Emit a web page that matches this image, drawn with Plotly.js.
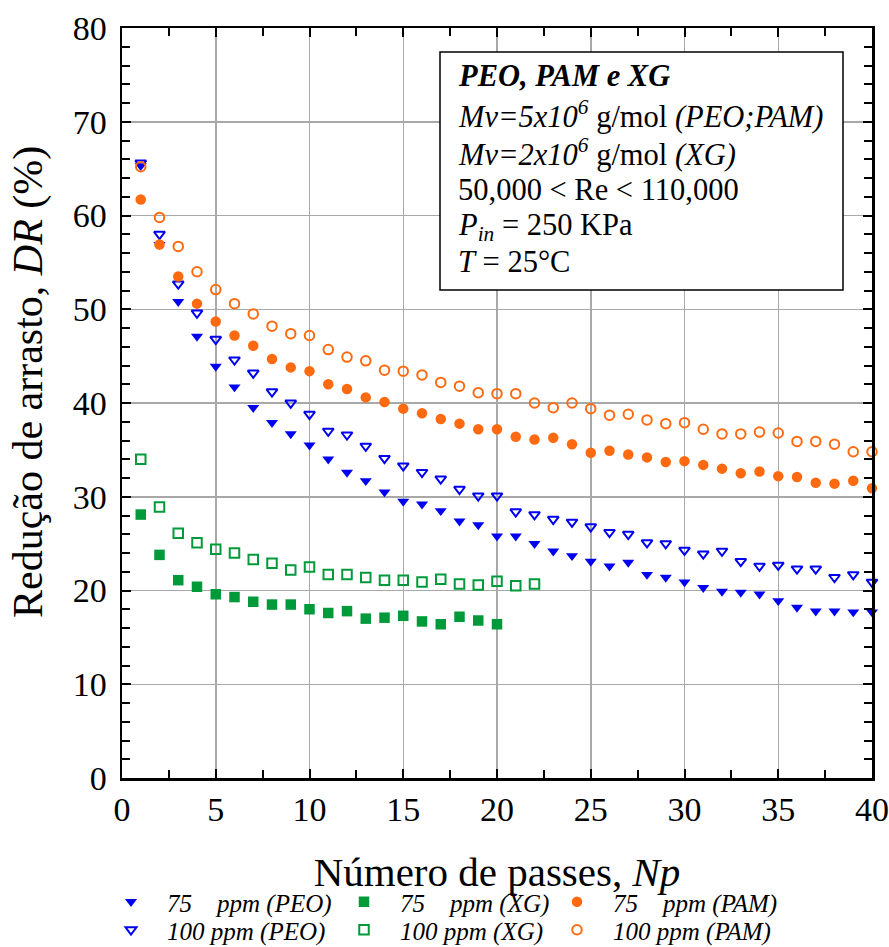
<!DOCTYPE html>
<html>
<head>
<meta charset="utf-8">
<script src="https://cdn.plot.ly/plotly-3.0.1.min.js"></script>
<style>html,body{margin:0;padding:0;background:#fff;}</style>
</head>
<body>
<div id="chart" style="width:889px;height:947px;"></div>
<script>
// Number of passes
const np40 = [1,2,3,4,5,6,7,8,9,10,11,12,13,14,15,16,17,18,19,20,21,22,23,24,25,26,27,28,29,30,31,32,33,34,35,36,37,38,39,40];
const np20 = [1,2,3,4,5,6,7,8,9,10,11,12,13,14,15,16,17,18,19,20];
const np22 = [1,2,3,4,5,6,7,8,9,10,11,12,13,14,15,16,17,18,19,20,21,22];

// Drag reduction DR (%)
const peo75 = [65.3,56.9,50.8,47.1,43.9,41.7,39.5,37.9,36.7,35.5,34.0,32.6,31.7,30.5,29.5,29.2,28.5,27.4,27.0,25.8,25.8,25.0,24.2,23.7,23.1,22.6,23.0,21.7,21.4,20.9,20.3,19.9,19.8,19.6,18.9,18.2,17.8,17.8,17.7,17.7];
const peo100 = [65.6,58.0,52.7,49.6,46.8,44.6,43.2,41.2,40.0,38.8,37.0,36.6,35.4,34.1,33.3,32.6,31.9,30.8,30.1,30.1,28.4,28.1,27.6,27.3,26.8,26.2,26.0,25.1,25.0,24.3,23.9,24.2,23.1,22.6,22.7,22.3,22.3,21.4,21.7,20.9];
const xg75 = [28.1,23.8,21.1,20.4,19.6,19.3,18.8,18.5,18.5,18.0,17.6,17.8,17.0,17.1,17.3,16.7,16.4,17.2,16.8,16.4];
const xg100 = [34.0,28.9,26.1,25.1,24.4,24.0,23.3,22.9,22.2,22.5,21.7,21.7,21.4,21.1,21.1,20.9,21.2,20.7,20.6,21.0,20.5,20.7];
const pam75 = [61.7,56.9,53.5,50.6,48.7,47.2,46.1,44.7,43.8,43.4,42.0,41.5,40.6,40.1,39.4,38.9,38.3,37.8,37.2,37.2,36.4,36.1,36.3,35.6,34.7,34.9,34.5,34.2,33.7,33.8,33.4,33.0,32.5,32.7,32.2,32.1,31.5,31.4,31.7,30.9];
const pam100 = [65.2,59.8,56.7,54.0,52.1,50.6,49.5,48.2,47.4,47.2,45.7,44.9,44.5,43.5,43.4,43.0,42.2,41.8,41.1,41.0,41.0,40.0,39.5,40.0,39.4,38.7,38.8,38.2,37.8,37.9,37.2,36.7,36.7,36.9,36.8,35.9,35.9,35.6,34.8,34.8];

const names = {
  peo75: '75\u00a0\u00a0\u00a0\u00a0ppm (PEO)',
  peo100: '100 ppm (PEO)',
  xg75: '75\u00a0\u00a0\u00a0\u00a0ppm (XG)',
  xg100: '100 ppm (XG)',
  pam75: '75\u00a0\u00a0\u00a0\u00a0ppm (PAM)',
  pam100: '100 ppm (PAM)'
};

const BLUE = '#0000f0', GREEN = '#009a3a', ORANGE = '#ff6a10';
const SERIF = 'Liberation Serif';

function tr(x, y, name, sym, color, leg, filled) {
  return {
    x: x, y: y, name: name, type: 'scatter', mode: 'markers', legend: leg,
    cliponaxis: false,
    marker: filled
      ? {symbol: sym, size: 10.5, color: color, line: {width: 0}}
      : {symbol: sym, size: 9.5, color: color, line: {width: 2, color: color}}
  };
}

const data = [
  tr(np22, xg100, names.xg100, 'square-open', GREEN, 'legend4', false),
  tr(np20, xg75, names.xg75, 'square', GREEN, 'legend3', true),
  tr(np40, peo75, names.peo75, 'triangle-down', BLUE, 'legend', true),
  tr(np40, peo100, names.peo100, 'triangle-down-open', BLUE, 'legend2', false),
  tr(np40, pam75, names.pam75, 'circle', ORANGE, 'legend5', true),
  tr(np40, pam100, names.pam100, 'circle-open', ORANGE, 'legend6', false)
];

const legFont = {family: SERIF, size: 25, color: '#000', style: 'italic'};
// row centre (px) -> legend top (px)
function leg(markerX, rowY) {
  return {
    x: (markerX - 36 - 122) / 750, xanchor: 'left',
    y: -((rowY - 25) - 778) / 750, yanchor: 'top',
    orientation: 'v', font: legFont, bgcolor: 'rgba(0,0,0,0)', borderwidth: 0,
    itemwidth: 62, tracegroupgap: 0, itemclick: false
  };
}

const axisCommon = {
  showgrid: true, gridcolor: '#a8a8a8', gridwidth: 1.5,
  showline: true, linecolor: '#000', linewidth: 2.5, mirror: 'ticks',
  ticks: 'inside', ticklen: 9, tickwidth: 2, tickcolor: '#000',
  zeroline: false,
  tickfont: {family: SERIF, size: 34, color: '#000'}
};

const boxLines = [
  '<b><i>PEO, PAM e XG</i></b>',
  '<i>Mv=5x10<sup>6</sup></i> g/mol <i>(PEO;PAM)</i>',
  '<i>Mv=2x10<sup>6</sup></i> g/mol <i>(XG)</i>',
  '50,000 < Re < 110,000',
  '<i>P<sub>in</sub></i> = 250 KPa',
  '<i>T</i> = 25°C'
];
const boxY = [76, 114, 152, 190, 227, 262];

const annotations = boxLines.map((t, i) => ({
  text: t, xref: 'paper', yref: 'paper',
  x: (456 - 122) / 750, xanchor: 'left',
  y: (778 - boxY[i]) / 750, yanchor: 'middle',
  showarrow: false, align: 'left',
  font: {family: SERIF, size: 30.5, color: '#000'}
}));
// y-axis title (placed as in the reference, slightly above the plot centre)
annotations.push({
  text: 'Redução de arrasto, <i>DR</i> (%)', xref: 'paper', yref: 'paper',
  x: (28 - 122) / 750, xanchor: 'center', y: (778 - 382) / 750, yanchor: 'middle',
  textangle: -90, showarrow: false,
  font: {family: SERIF, size: 42, color: '#000'}
});

const layout = {
  width: 889, height: 947,
  margin: {l: 122, r: 17, t: 28, b: 169, autoexpand: false},
  paper_bgcolor: '#fff', plot_bgcolor: '#fff',
  font: {family: SERIF, color: '#000'},
  showlegend: true,
  xaxis: Object.assign({}, axisCommon, {
    range: [0, 40], tick0: 0, dtick: 5,
    minor: {dtick: 2.5, ticks: 'inside', ticklen: 8, tickwidth: 2, tickcolor: '#000', showgrid: false},
    title: {text: 'Número de passes, <i>Np</i>', font: {family: SERIF, size: 41, color: '#000'}, standoff: 30}
  }),
  yaxis: Object.assign({}, axisCommon, {
    range: [0, 80], tick0: 0, dtick: 10,
    minor: {dtick: 2, ticks: 'inside', ticklen: 8, tickwidth: 2, tickcolor: '#000', showgrid: false},
    ticklabelstandoff: 6
  }),
  legend: leg(131, 904),
  legend2: leg(131, 932),
  legend3: leg(364, 904),
  legend4: leg(364, 932),
  legend5: leg(577, 904),
  legend6: leg(577, 932),
  shapes: [{
    type: 'rect', xref: 'paper', yref: 'paper',
    x0: (440 - 122) / 750, x1: (843 - 122) / 750,
    y0: (778 - 290) / 750, y1: (778 - 52) / 750,
    line: {color: '#000', width: 1.5}, fillcolor: '#fff', layer: 'above'
  }],
  annotations: annotations
};

Plotly.newPlot('chart', data, layout, {staticPlot: true, displayModeBar: false});
</script>
</body>
</html>
